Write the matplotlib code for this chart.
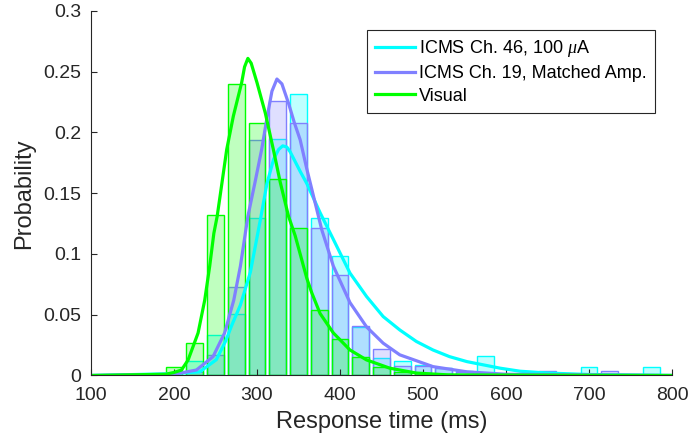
import matplotlib
matplotlib.use("Agg")
import matplotlib.pyplot as plt
from matplotlib.colors import to_rgba
import numpy as np

plt.rcParams['font.family'] = ['Liberation Sans', 'DejaVu Sans']
plt.rcParams['mathtext.fontset'] = 'custom'
plt.rcParams['mathtext.it'] = 'Liberation Serif:italic'

# histogram bin centers (ms), bin width 25 ms
bin_centers = [200, 225, 250, 275, 300, 325, 350, 375, 400, 425, 450, 475,
               500, 525, 550, 575, 600, 625, 650, 675, 700, 725, 750, 775]

hist_ch46 = [0, 0.012, 0.033, 0.051, 0.130, 0.195, 0.232, 0.130, 0.098, 0.040, 0.014, 0.012,
             0.009, 0.006, 0.004, 0.016, 0.001, 0, 0, 0, 0.007, 0, 0, 0.007]
hist_ch19 = [0, 0.003, 0.0165, 0.073, 0.194, 0.226, 0.208, 0.121, 0.083, 0.041, 0.0215, 0.008,
             0.008, 0.006, 0.003, 0.002, 0.001, 0, 0.004, 0, 0, 0.004, 0, 0]
hist_visual = [0.007, 0.027, 0.132, 0.240, 0.208, 0.162, 0.121, 0.054, 0.030, 0.0155, 0.007, 0.003,
               0.002, 0.001, 0, 0, 0, 0, 0, 0, 0, 0, 0, 0]

# fitted curves
fit_ch46_x = [100, 200, 231, 251, 262, 270, 280, 292, 304, 312, 320, 326, 331, 336, 340, 352, 360,
              376, 392, 412, 432, 452, 472, 492, 512, 532, 553, 573, 593, 617, 650, 700, 800]
fit_ch46_y = [0, 0.0015, 0.003, 0.013, 0.028, 0.042, 0.058, 0.085, 0.128, 0.158, 0.178, 0.186, 0.189,
              0.188, 0.184, 0.168, 0.158, 0.134, 0.112, 0.0843, 0.065, 0.0485, 0.0375, 0.028, 0.021,
              0.0155, 0.0114, 0.0087, 0.006, 0.0035, 0.002, 0.0008, 0]

fit_ch19_x = [100, 200, 227, 247, 261, 272, 280, 289, 297.6, 305.6, 312.4, 318, 324, 330, 338, 345,
              352, 360, 378, 392, 412, 432, 452, 472, 512, 553, 600, 800]
fit_ch19_y = [0, 0.001, 0.0045, 0.0155, 0.035, 0.062, 0.090, 0.131, 0.159, 0.186, 0.2135, 0.234,
              0.244, 0.240, 0.224, 0.208, 0.194, 0.170, 0.120, 0.090, 0.060, 0.040, 0.0266, 0.017,
              0.0073, 0.003, 0.001, 0]

fit_visual_x = [100, 190, 200, 209, 217, 229, 237, 243, 248, 252, 256, 263.5, 271.5, 281.5, 285, 289,
                293, 300, 310, 320, 328, 338, 346, 352, 360, 366, 376, 392, 412, 432, 460, 492, 530, 800]
fit_visual_y = [0, 0.001, 0.0025, 0.0045, 0.0128, 0.035, 0.062, 0.090, 0.117, 0.131, 0.150, 0.186,
                0.2135, 0.241, 0.254, 0.261, 0.257, 0.241, 0.216, 0.185, 0.159, 0.131, 0.115, 0.100,
                0.080, 0.068, 0.051, 0.035, 0.021, 0.0128, 0.006, 0.002, 0.0005, 0]

labels = [r'ICMS Ch. 46, 100 $\mu$A', 'ICMS Ch. 19, Matched Amp.', 'Visual']
colors = ['#00FFFF', '#8080FF', '#00FF00']


def main():
    fig = plt.figure(figsize=(6.89, 4.47), dpi=100)
    ax = fig.add_axes([0.1321, 0.160, 0.8432, 0.8154])

    hists = [hist_ch46, hist_ch19, hist_visual]
    for h, c in zip(hists, colors):
        ax.bar(bin_centers, h, width=20, facecolor=to_rgba(c, 0.25), edgecolor=c,
               linewidth=1.0)

    fits = [(fit_ch46_x, fit_ch46_y), (fit_ch19_x, fit_ch19_y), (fit_visual_x, fit_visual_y)]
    for (fx, fy), c, lab in zip(fits, colors, labels):
        ax.plot(fx, fy, color=c, linewidth=2.3, label=lab)

    ax.set_xlim(100, 800)
    ax.set_ylim(0, 0.3)
    ax.set_xticks(np.arange(100, 801, 100))
    ax.set_yticks([0, 0.05, 0.1, 0.15, 0.2, 0.25, 0.3])
    ax.set_yticklabels(['0', '0.05', '0.1', '0.15', '0.2', '0.25', '0.3'])
    ax.tick_params(direction='in', length=4, labelsize=14, colors='#262626', width=0.8)
    ax.tick_params(axis='x', pad=8.5)
    ax.tick_params(axis='y', pad=7)
    for side in ['top', 'right']:
        ax.spines[side].set_visible(False)
    for side in ['left', 'bottom']:
        ax.spines[side].set_color('#262626')
        ax.spines[side].set_linewidth(0.8)

    ax.set_xlabel("Response time (ms)", fontsize=17, color='#262626', labelpad=5)
    ax.set_ylabel("Probability", fontsize=17, color='#262626', labelpad=6)

    leg = ax.legend(loc='upper right', bbox_to_anchor=(0.9707, 0.948), borderaxespad=0,
                    fontsize=13, handlelength=2.2, handletextpad=0.25, labelspacing=0.32,
                    fancybox=False, framealpha=1, edgecolor='#262626', borderpad=0.45)
    leg.get_frame().set_linewidth(0.8)

    fig.savefig("out.png", dpi=100)


if __name__ == '__main__':
    main()
